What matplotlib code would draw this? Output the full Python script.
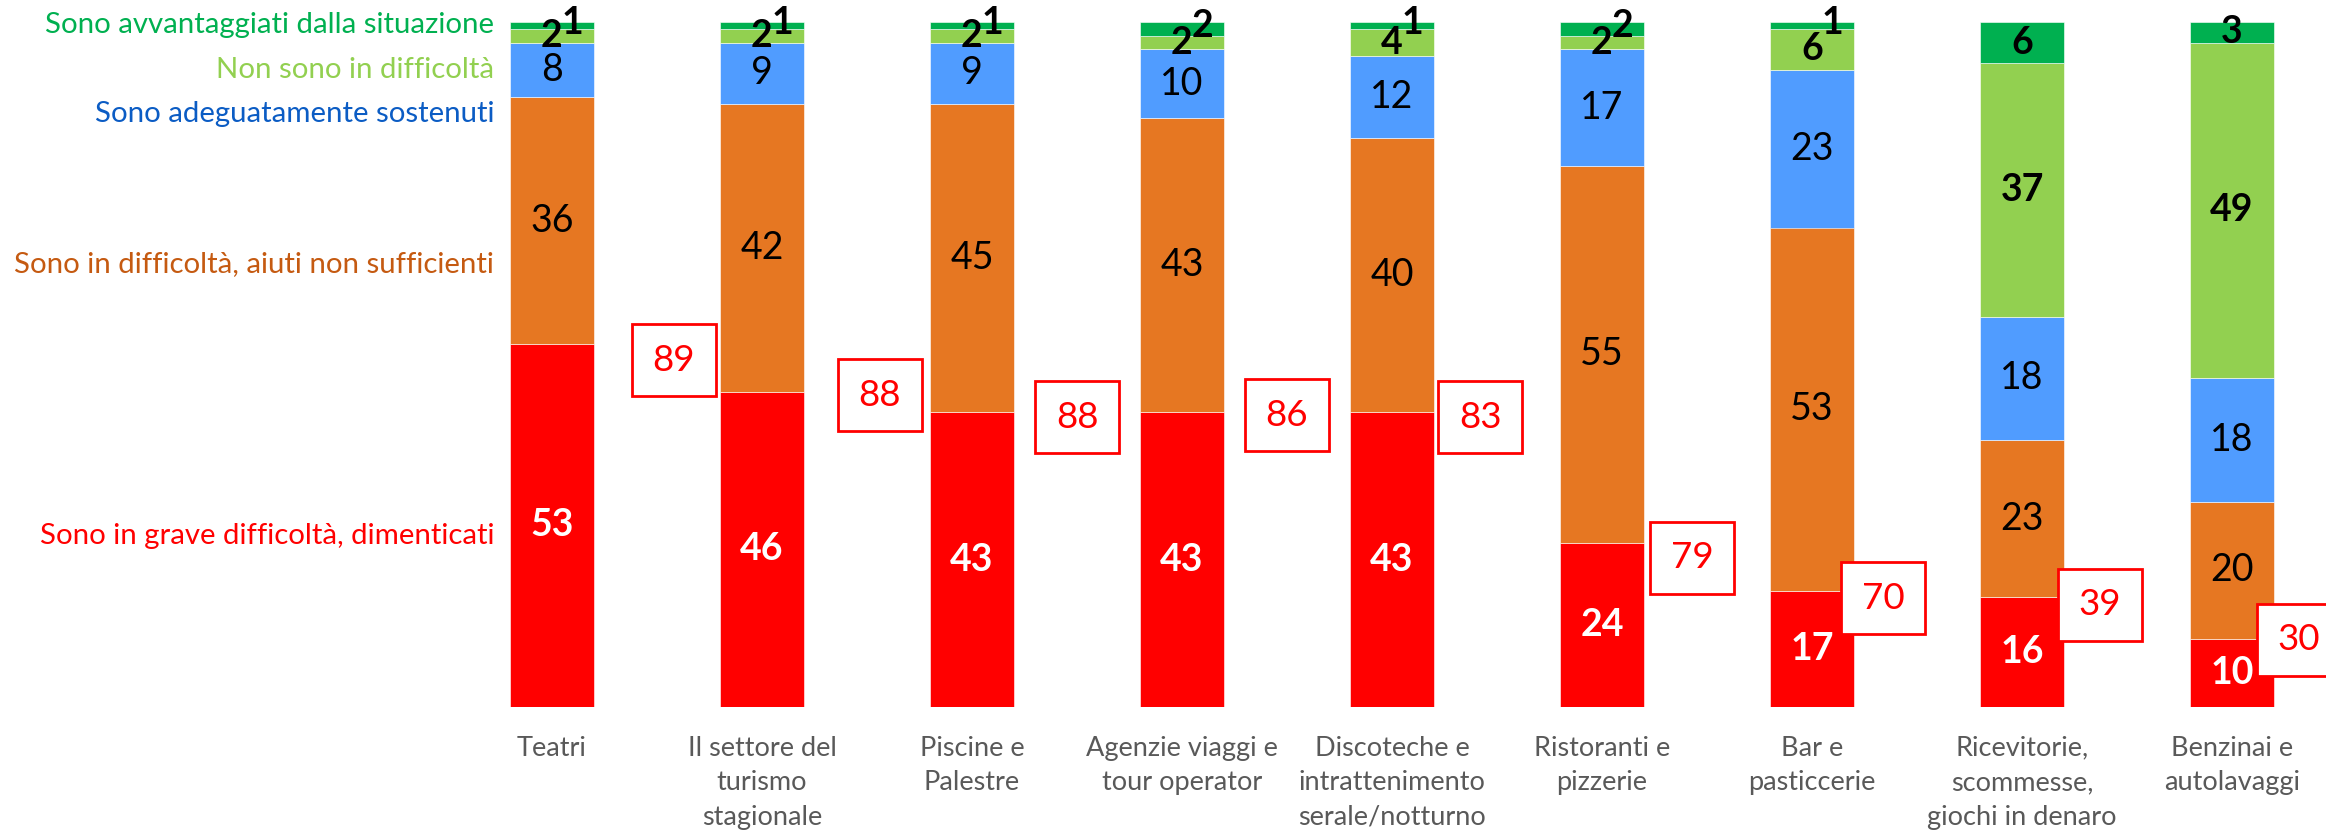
import matplotlib
matplotlib.use("Agg")
import matplotlib.pyplot as plt
from matplotlib.patches import Rectangle
import numpy as np

plt.rcParams['font.family'] = ['Lato', 'DejaVu Sans']

categories = ["Teatri", "Il settore del\nturismo\nstagionale", "Piscine e\nPalestre",
              "Agenzie viaggi e\ntour operator", "Discoteche e\nintrattenimento\nserale/notturno",
              "Ristoranti e\npizzerie", "Bar e\npasticcerie",
              "Ricevitorie,\nscommesse,\ngiochi in denaro", "Benzinai e\nautolavaggi"]

grave = [53, 46, 43, 43, 43, 24, 17, 16, 10]
insufficienti = [36, 42, 45, 43, 40, 55, 53, 23, 20]
sostenuti = [8, 9, 9, 10, 12, 17, 23, 18, 18]
non_difficolta = [2, 2, 2, 2, 4, 2, 6, 37, 49]
avvantaggiati = [1, 1, 1, 2, 1, 2, 1, 6, 3]

series_names = ["Sono in grave difficoltà, dimenticati",
                "Sono in difficoltà, aiuti non sufficienti",
                "Sono adeguatamente sostenuti",
                "Non sono in difficoltà",
                "Sono avvantaggiati dalla situazione"]

# styling
bar_colors = ["#FF0000", "#E67722", "#509CFF", "#92D050", "#00B050"]
text_colors = ["#FF0000", "#C55A11", "#0B5CC4", "#92D050", "#00B050"]
label_colors = ["white", "black", "black", "black", "black"]
label_weights = ["bold", "normal", "normal", "bold", "bold"]
legend_y = [25.0, 64.7, 86.6, 93.0, 99.6]
box_dx = [0.58, 0.56, 0.50, 0.50, 0.42, 0.43, 0.34, 0.37, 0.32]
box_dy = [-2.4, -0.5, -0.7, -0.4, -0.7, -2.2, -1.1, -1.1, -0.2]

W, H = 2326, 840
fig = plt.figure(figsize=(W / 100, H / 100), dpi=100)
ax = fig.add_axes([0, 133 / H, 1, (818 - 133) / H])
spacing = 210.0
x0 = 552.0
ax.set_xlim(-x0 / spacing, (W - x0) / spacing)
ax.set_ylim(0, 100)
ax.axis('off')

x = np.arange(len(categories))
width = 0.4
series = [grave, insufficienti, sostenuti, non_difficolta, avvantaggiati]
bottom = np.zeros(len(categories))
for k, vals in enumerate(series):
    vals = np.array(vals, dtype=float)
    ax.bar(x, vals, width=width, bottom=bottom, color=bar_colors[k],
           edgecolor='white', linewidth=0.4, zorder=2)
    for i, v in enumerate(vals):
        dx, dy = 0, 0
        if k == 4 and v <= 2 and non_difficolta[i] <= 6:
            dx, dy = 15, 2
        ax.annotate(f"{int(v)}", (x[i], bottom[i] + v / 2), xytext=(dx, dy),
                    textcoords='offset points', ha='center', va='center',
                    fontsize=27, color=label_colors[k], fontweight=label_weights[k],
                    zorder=5)
    bottom += vals

# legend labels on the left
for k in range(5):
    ax.text(-0.275, legend_y[k], series_names[k], ha='right', va='center',
            fontsize=21.2, color=text_colors[k])

# total boxes
totals = [g + s for g, s in zip(grave, insufficienti)]
bh = 72 / 6.85
for i, t in enumerate(totals):
    cx = x[i] + box_dx[i]
    cy = grave[i] + box_dy[i]
    rect = Rectangle((cx - width / 2, cy - bh / 2), width, bh, facecolor='white',
                     edgecolor='#FF0000', linewidth=2, zorder=6, clip_on=False)
    ax.add_patch(rect)
    ax.text(cx, cy, f"{t}", ha='center', va='center', fontsize=26.5,
            color='#FF0000', zorder=7, clip_on=False)

# category labels
for i, c in enumerate(categories):
    ax.text(x[i], -4.2, c, ha='center', va='top', fontsize=19.5, color='#595959',
            linespacing=1.47)

fig.savefig("out.png", dpi=100)
